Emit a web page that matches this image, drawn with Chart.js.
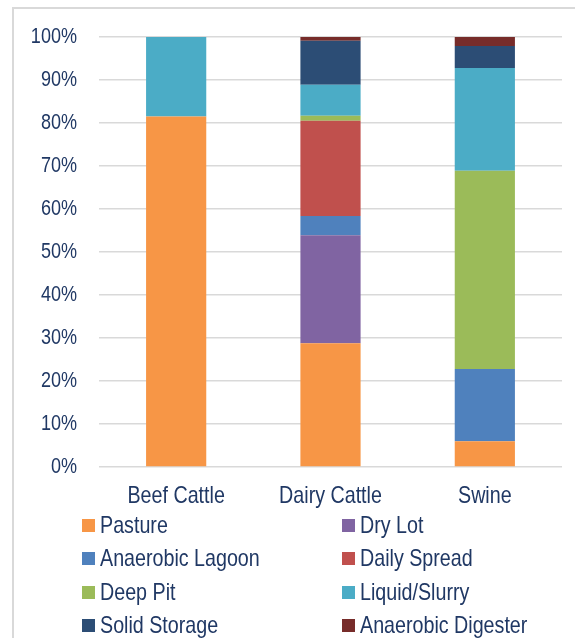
<!DOCTYPE html>
<html>
<head>
<meta charset="utf-8">
<script src="https://cdn.jsdelivr.net/npm/chart.js@4.4.1/dist/chart.umd.min.js"></script>
<style>
    html, body {
        margin: 0;
        padding: 0;
        background: #ffffff;
        overflow: hidden;
    }
    #frame {
        position: absolute;
        left: 12px;
        top: 7px;
        width: 600px;
        height: 700px;
        border-left: 2px solid #d9d9d9;
        border-top: 2px solid #d9d9d9;
    }
    #chart-wrap {
        position: absolute;
        left: 0;
        top: 0;
        width: 575px;
        height: 520px;
    }
    #legend {
        position: absolute;
        left: 82px;
        top: 508px;
        display: grid;
        grid-template-columns: 260px auto;
        grid-auto-rows: 33.5px;
        font-family: "Liberation Sans", Arial, sans-serif;
        font-size: 24px;
        color: #203864;
    }
    .legend-item {
        display: flex;
        align-items: center;
        white-space: nowrap;
    }
    .legend-box {
        width: 13px;
        height: 13px;
        margin-right: 5px;
        margin-top: 1px;
    }
    .legend-text {
        display: inline-block;
        transform: scaleX(0.82);
        transform-origin: left center;
    }
</style>
</head>
<body>
<div id="frame"></div>
<div id="chart-wrap"><canvas id="myChart"></canvas></div>
<div id="legend"></div>
<script>
// percentages per animal type, bottom to top
const categories = ['Beef Cattle', 'Dairy Cattle', 'Swine'];
const seriesNames = ['Pasture', 'Dry Lot', 'Anaerobic Lagoon', 'Daily Spread',
    'Deep Pit', 'Liquid/Slurry', 'Solid Storage', 'Anaerobic Digester'];

const pasture = [81.5, 28.8, 6.0];
const dryLot = [0, 25.1, 0];
const anaerobicLagoon = [0, 4.5, 16.8];
const dailySpread = [0, 22.1, 0];
const deepPit = [0, 1.2, 46.1];
const liquidSlurry = [18.5, 7.2, 23.9];
const solidStorage = [0, 10.2, 5.1];
const anaerobicDigester = [0, 0.9, 2.1];

const seriesValues = [pasture, dryLot, anaerobicLagoon, dailySpread,
    deepPit, liquidSlurry, solidStorage, anaerobicDigester];

const yTicks = [0, 10, 20, 30, 40, 50, 60, 70, 80, 90, 100];

const colors = ['#F79646', '#8064A2', '#4F81BD', '#C0504D',
    '#9BBB59', '#4BACC6', '#2C4D75', '#772C2A'];

const textColor = '#203864';
const fontFamily = '"Liberation Sans", Arial, sans-serif';
const narrow = 0.82; // squeeze Liberation Sans to look like Arial Narrow

let myChart;

// draws the axis labels condensed, positions come from the chart scales
const narrowTicks = {
    id: 'narrowTicks',
    afterDraw(chart) {
        const ctx = chart.ctx;
        const area = chart.chartArea;
        ctx.save();
        ctx.fillStyle = textColor;
        ctx.textBaseline = 'middle';

        const y = chart.scales.y;
        ctx.font = '22px ' + fontFamily;
        ctx.textAlign = 'right';
        y.ticks.forEach(t => {
            ctx.save();
            ctx.translate(area.left - 22, y.getPixelForValue(t.value));
            ctx.scale(narrow, 1);
            ctx.fillText(t.value + '%', 0, 0);
            ctx.restore();
        });

        const x = chart.scales.x;
        ctx.font = '24px ' + fontFamily;
        ctx.textAlign = 'center';
        categories.forEach((label, i) => {
            ctx.save();
            ctx.translate(x.getPixelForTick(i), area.bottom + 29);
            ctx.scale(narrow, 1);
            ctx.fillText(label, 0, 0);
            ctx.restore();
        });
        ctx.restore();
    }
};

function createChart() {
    const ctx = document.getElementById('myChart').getContext('2d');

    if (myChart) {
        myChart.destroy();
    }

    const datasets = seriesNames.map((name, i) => ({
        label: name,
        data: seriesValues[i],
        backgroundColor: colors[i],
        borderWidth: 0,
        barPercentage: 0.78,
        categoryPercentage: 0.5
    }));

    myChart = new Chart(ctx, {
        type: 'bar',
        data: {
            labels: categories,
            datasets: datasets
        },
        options: {
            responsive: true,
            maintainAspectRatio: false,
            animation: false,
            layout: {
                padding: {
                    left: 0,
                    right: 13,
                    top: 37,
                    bottom: 13
                }
            },
            plugins: {
                legend: {
                    display: false
                },
                tooltip: {
                    enabled: false
                }
            },
            scales: {
                x: {
                    stacked: true,
                    afterFit: (axis) => {
                        axis.height = 40;
                    },
                    grid: {
                        display: false
                    },
                    border: {
                        display: false
                    },
                    ticks: {
                        display: false
                    }
                },
                y: {
                    stacked: true,
                    min: 0,
                    max: 100,
                    afterFit: (axis) => {
                        axis.width = 99;
                    },
                    afterBuildTicks: (axis) => {
                        axis.ticks = yTicks.map(v => ({ value: v }));
                    },
                    grid: {
                        color: '#d9d9d9',
                        lineWidth: 1.5,
                        drawTicks: false
                    },
                    border: {
                        display: false
                    },
                    ticks: {
                        display: false
                    }
                }
            }
        },
        plugins: [narrowTicks]
    });
}

function buildLegend() {
    const legend = document.getElementById('legend');
    legend.innerHTML = '';
    myChart.data.datasets.forEach(ds => {
        const item = document.createElement('div');
        item.className = 'legend-item';
        const box = document.createElement('span');
        box.className = 'legend-box';
        box.style.background = ds.backgroundColor;
        const label = document.createElement('span');
        label.className = 'legend-text';
        label.textContent = ds.label;
        item.appendChild(box);
        item.appendChild(label);
        legend.appendChild(item);
    });
}

createChart();
buildLegend();
</script>
</body>
</html>
